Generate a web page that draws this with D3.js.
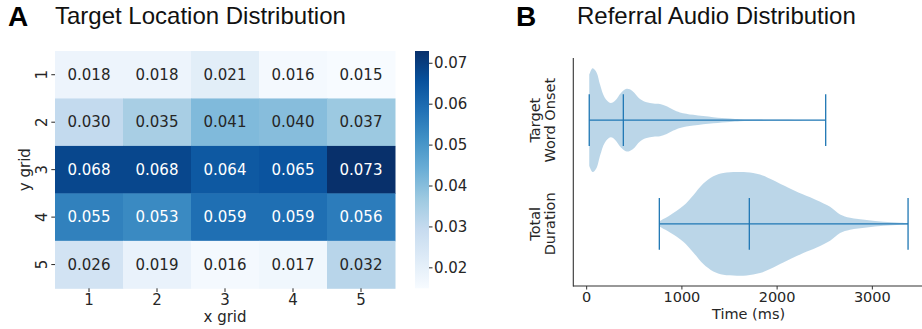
<!DOCTYPE html>
<html>
<head>
<meta charset="utf-8">
<script src="https://cdn.jsdelivr.net/npm/d3@7"></script>
<style>
  html, body { margin: 0; padding: 0; background: #fff; }
  svg { display: block; }
</style>
</head>
<body>
<svg id="chart" width="922" height="329"></svg>
<script>
// ---------------- DATA ----------------
// Panel A: heatmap
const xGrid = [1, 2, 3, 4, 5];
const yGrid = [1, 2, 3, 4, 5];
const heatValues = [
  [0.018, 0.018, 0.021, 0.016, 0.015],
  [0.030, 0.035, 0.041, 0.040, 0.037],
  [0.068, 0.068, 0.064, 0.065, 0.073],
  [0.055, 0.053, 0.059, 0.059, 0.056],
  [0.026, 0.019, 0.016, 0.017, 0.032]
];
const colorbarTicks = [0.02, 0.03, 0.04, 0.05, 0.06, 0.07];
const blues9 = ["#f7fbff","#deebf7","#c6dbef","#9ecae1","#6baed6","#4292c6","#2171b5","#08519c","#08306b"];

// Panel B: violins (density profile, relative units)
const violinCategories = [["Target", "Word Onset"], ["Total", "Duration"]];
const onsetTimes   = [27, 63, 105, 140, 192, 252, 300, 360, 420, 480, 560, 630, 700, 770, 840, 910, 980, 1120, 1330, 1505, 1610, 1800, 2000, 2250, 2510];
const onsetDensity = [45, 51.3, 47, 35.3, 22, 17, 19.5, 27, 31, 29, 21, 17.7, 16.5, 16, 13.7, 10.3, 7.7, 5.3, 3, 1.7, 1, 0.6, 0.4, 0.2, 0.1];
const durationTimes   = [763, 875, 1015, 1120, 1225, 1330, 1435, 1575, 1680, 1820, 1960, 2065, 2275, 2416, 2556, 2661, 2766, 2941, 3116, 3291, 3375];
const durationDensity = [2.7, 8.7, 18, 28.7, 40.3, 47.7, 51, 51.9, 51.7, 49.3, 43.7, 38.7, 29.3, 23.7, 17, 9.3, 6, 3.7, 2, 1, 0.7];
const violinMin    = [27, 763];
const violinMedian = [385, 1708];
const violinMax    = [2510, 3375];
const timeTicks = [0, 1000, 2000, 3000];

// ---------------- DRAW ----------------
const svg = d3.select("#chart");
const dejavu = "'DejaVu Sans', sans-serif";
const helv = "'Liberation Sans', Arial, Helvetica, sans-serif";
const textCol = "#262626";

// Panel labels and titles
svg.append("text").attr("x", 8).attr("y", 25.5).attr("font-family", helv).attr("font-weight", "bold")
  .attr("font-size", 28).attr("fill", "#000").text("A");
svg.append("text").attr("x", 55).attr("y", 24).attr("font-family", helv)
  .attr("font-size", 24).attr("fill", "#111").text("Target Location Distribution");
svg.append("text").attr("x", 516).attr("y", 25.5).attr("font-family", helv).attr("font-weight", "bold")
  .attr("font-size", 28).attr("fill", "#000").text("B");
svg.append("text").attr("x", 577).attr("y", 24).attr("font-family", helv)
  .attr("font-size", 24).attr("fill", "#111").text("Referral Audio Distribution");

// ---- Heatmap ----
const vals = heatValues.flat();
const vmin = d3.min(vals), vmax = d3.max(vals);
const color = d3.scaleLinear()
  .domain(blues9.map((c, i) => vmin + i * (vmax - vmin) / 8))
  .range(blues9)
  .interpolate(d3.interpolateRgb);

const hx = d3.scaleBand().domain(xGrid).range([55, 395]);
const hy = d3.scaleBand().domain(yGrid).range([51, 288.3]);

function luminance(c) {
  const r = d3.rgb(c);
  const lin = v => { v /= 255; return v <= 0.03928 ? v / 12.92 : Math.pow((v + 0.055) / 1.055, 2.4); };
  return 0.2126 * lin(r.r) + 0.7152 * lin(r.g) + 0.0722 * lin(r.b);
}

const cells = [];
yGrid.forEach((yv, i) => xGrid.forEach((xv, j) => cells.push({x: xv, y: yv, v: heatValues[i][j]})));

const gH = svg.append("g");
gH.selectAll("rect").data(cells).join("rect")
  .attr("x", d => hx(d.x)).attr("y", d => hy(d.y))
  .attr("width", hx.bandwidth() + 0.5).attr("height", hy.bandwidth() + 0.5)
  .attr("fill", d => color(d.v));
gH.selectAll("text").data(cells).join("text")
  .attr("x", d => hx(d.x) + hx.bandwidth() / 2)
  .attr("y", d => hy(d.y) + hy.bandwidth() / 2)
  .attr("text-anchor", "middle").attr("dominant-baseline", "central")
  .attr("font-family", dejavu).attr("font-size", 15)
  .attr("fill", d => luminance(color(d.v)) > 0.408 ? textCol : "#fff")
  .text(d => d3.format(".3f")(d.v));

// x axis
const gx = svg.append("g");
xGrid.forEach(v => {
  const cx = hx(v) + hx.bandwidth() / 2;
  gx.append("line").attr("x1", cx).attr("x2", cx).attr("y1", 288.3).attr("y2", 292)
    .attr("stroke", textCol).attr("stroke-width", 1);
  gx.append("text").attr("x", cx).attr("y", 299.5).attr("text-anchor", "middle")
    .attr("dominant-baseline", "central").attr("font-family", dejavu).attr("font-size", 15)
    .attr("fill", textCol).text(v);
});
svg.append("text").attr("x", 225).attr("y", 316.5).attr("text-anchor", "middle")
  .attr("dominant-baseline", "central").attr("font-family", dejavu).attr("font-size", 15)
  .attr("fill", textCol).text("x grid");

// y axis
yGrid.forEach(v => {
  const cy = hy(v) + hy.bandwidth() / 2;
  svg.append("line").attr("x1", 51.3).attr("x2", 55).attr("y1", cy).attr("y2", cy)
    .attr("stroke", textCol).attr("stroke-width", 1);
  svg.append("text").attr("transform", `translate(41.5,${cy}) rotate(-90)`)
    .attr("text-anchor", "middle").attr("dominant-baseline", "central")
    .attr("font-family", dejavu).attr("font-size", 15).attr("fill", textCol).text(v);
});
svg.append("text").attr("transform", `translate(24.5,${(51 + 288.3) / 2}) rotate(-90)`)
  .attr("text-anchor", "middle").attr("dominant-baseline", "central")
  .attr("font-family", dejavu).attr("font-size", 15).attr("fill", textCol).text("y grid");

// colorbar
const defs = svg.append("defs");
const grad = defs.append("linearGradient").attr("id", "cbgrad")
  .attr("x1", 0).attr("y1", 1).attr("x2", 0).attr("y2", 0);
blues9.forEach((c, i) => grad.append("stop").attr("offset", i / 8).attr("stop-color", c));
const cbY = d3.scaleLinear().domain([vmin, vmax]).range([288.3, 51]);
svg.append("rect").attr("x", 415).attr("y", 51).attr("width", 14).attr("height", 237.3)
  .attr("fill", "url(#cbgrad)");
colorbarTicks.forEach(t => {
  const yy = cbY(t);
  svg.append("line").attr("x1", 429).attr("x2", 432.5).attr("y1", yy).attr("y2", yy)
    .attr("stroke", textCol).attr("stroke-width", 1);
  svg.append("text").attr("x", 434).attr("y", yy).attr("dominant-baseline", "central")
    .attr("font-family", dejavu).attr("font-size", 15).attr("fill", textCol).text(d3.format(".2f")(t));
});

// ---- Violin plot ----
const allMin = d3.min(violinMin), allMax = d3.max(violinMax);
const margin = (allMax - allMin) * 0.05;
const vx = d3.scaleLinear().domain([allMin - margin, allMax + margin]).range([573.3, 924]);
const vy = d3.scaleLinear().domain([-0.6, 1.6]).range([58, 286]);
const blue = "#1f77b4";

const violinSeries = [
  {times: onsetTimes, dens: onsetDensity},
  {times: durationTimes, dens: durationDensity}
];
const gV = svg.append("g");
violinSeries.forEach((s, i) => {
  const maxD = d3.max(s.dens);
  const pts = s.times.map((t, k) => ({t, d: s.dens[k] / maxD}));
  const area = d3.area()
    .x(p => vx(p.t))
    .y0(p => vy(i - 0.5 * p.d))
    .y1(p => vy(i + 0.5 * p.d))
    .curve(d3.curveCatmullRom.alpha(0.5));
  gV.append("path").datum(pts).attr("d", area).attr("fill", blue).attr("fill-opacity", 0.3);
});
violinSeries.forEach((s, i) => {
  const cy = vy(i);
  gV.append("line").attr("x1", vx(violinMin[i])).attr("x2", vx(violinMax[i]))
    .attr("y1", cy).attr("y2", cy).attr("stroke", blue).attr("stroke-width", 1.3);
  [violinMin[i], violinMedian[i], violinMax[i]].forEach(v => {
    gV.append("line").attr("x1", vx(v)).attr("x2", vx(v))
      .attr("y1", vy(i - 0.25)).attr("y2", vy(i + 0.25))
      .attr("stroke", blue).attr("stroke-width", 1.3);
  });
});

// spines
svg.append("line").attr("x1", 573.3).attr("x2", 573.3).attr("y1", 58).attr("y2", 286.5)
  .attr("stroke", "#333").attr("stroke-width", 1.1);
svg.append("line").attr("x1", 573).attr("x2", 922).attr("y1", 286).attr("y2", 286)
  .attr("stroke", "#333").attr("stroke-width", 1.1);

// x ticks
timeTicks.forEach(t => {
  svg.append("line").attr("x1", vx(t)).attr("x2", vx(t)).attr("y1", 286).attr("y2", 289.5)
    .attr("stroke", "#333").attr("stroke-width", 1);
  svg.append("text").attr("x", vx(t)).attr("y", 297).attr("text-anchor", "middle")
    .attr("dominant-baseline", "central").attr("font-family", dejavu).attr("font-size", 14.5)
    .attr("fill", textCol).text(t);
});
svg.append("text").attr("x", vx(1700)).attr("y", 313.5).attr("text-anchor", "middle")
  .attr("dominant-baseline", "central").attr("font-family", dejavu).attr("font-size", 14.5)
  .attr("fill", textCol).text("Time (ms)");

// category labels
violinCategories.forEach((lines, i) => {
  const g = svg.append("text").attr("transform", `translate(542.5,${vy(i)}) rotate(-90)`)
    .attr("text-anchor", "middle").attr("font-family", dejavu).attr("font-size", 14.5)
    .attr("fill", textCol);
  lines.forEach((ln, k) => {
    g.append("tspan").attr("x", 0).attr("y", (k - (lines.length - 1) / 2) * 15.5)
      .attr("dominant-baseline", "central").text(ln);
  });
});
</script>
</body>
</html>
